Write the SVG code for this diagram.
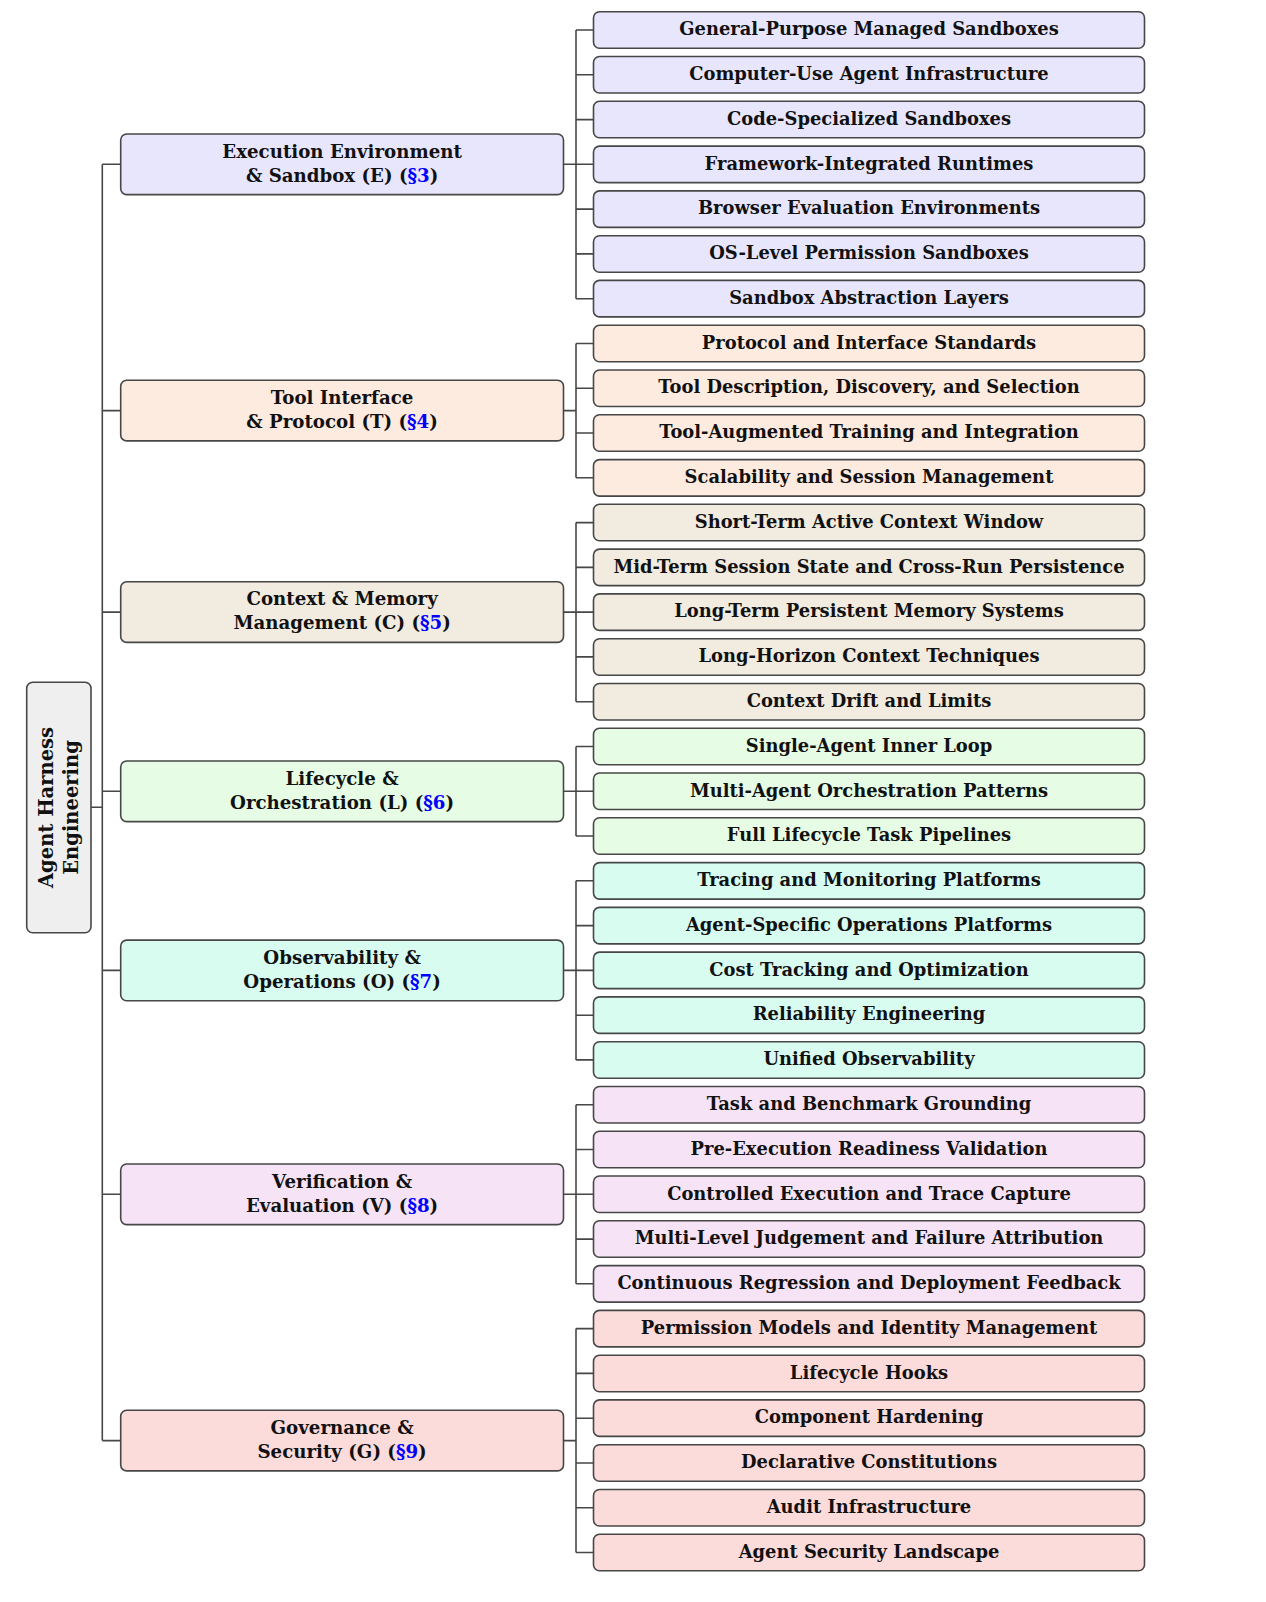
<svg xmlns="http://www.w3.org/2000/svg" width="1266" height="1602" viewBox="0 0 1266 1602">
<style>
.bx{stroke:#474747;stroke-width:1.6}
.c{fill:none;stroke:#474747;stroke-width:1.6}
text{font-family:"DejaVu Serif","Liberation Serif",serif;font-weight:bold;fill:#111;text-anchor:middle}
.s{font-size:17.9px}
.k{font-size:18.2px}
.r{font-size:19.5px}
.ref{fill:#0000ff}
.E{fill:#e8e6fd}.T{fill:#fdebe0}.C{fill:#f1ebe0}.L{fill:#e6fce4}.O{fill:#d9fcf1}.V{fill:#f6e4f6}.G{fill:#fcdbdb}.R{fill:#efefef}
</style>
<rect width="1266" height="1602" fill="#ffffff"/>
<g id="connectors">
<path class="c" d="M91,807.3H102.3M102.3,164.3V1440.6M102.3,164.3H120.7M102.3,410.6H120.7M102.3,612.1H120.7M102.3,791.3H120.7M102.3,970.4H120.7M102.3,1194.3H120.7M102.3,1440.6H120.7"/>
<path class="c" d="M563.5,164.3H576M576,30V298.7M576,30H593.5M576,74.8H593.5M576,119.6H593.5M576,164.3H593.5M576,209.1H593.5M576,253.9H593.5M576,298.7H593.5"/>
<path class="c" d="M563.5,410.6H576M576,343.5V477.8M576,343.5H593.5M576,388.2H593.5M576,433H593.5M576,477.8H593.5"/>
<path class="c" d="M563.5,612.1H576M576,522.6V701.7M576,522.6H593.5M576,567.4H593.5M576,612.1H593.5M576,656.9H593.5M576,701.7H593.5"/>
<path class="c" d="M563.5,791.3H576M576,746.5V836M576,746.5H593.5M576,791.3H593.5M576,836H593.5"/>
<path class="c" d="M563.5,970.4H576M576,880.8V1059.9M576,880.8H593.5M576,925.6H593.5M576,970.4H593.5M576,1015.2H593.5M576,1059.9H593.5"/>
<path class="c" d="M563.5,1194.3H576M576,1104.7V1283.8M576,1104.7H593.5M576,1149.5H593.5M576,1194.3H593.5M576,1239.1H593.5M576,1283.8H593.5"/>
<path class="c" d="M563.5,1440.6H576M576,1328.6V1552.5M576,1328.6H593.5M576,1373.4H593.5M576,1418.2H593.5M576,1463H593.5M576,1507.7H593.5M576,1552.5H593.5"/>
</g>
<g id="root">
<rect class="bx R" x="26.7" y="682.3" width="64.3" height="250.4" rx="6"/>
<text class="r" transform="translate(52.5,807.5) rotate(-90)">Agent Harness</text>
<text class="r" transform="translate(77.5,807.5) rotate(-90)">Engineering</text>
</g>
<g id="cat-E"><rect class="bx E" x="120.7" y="134" width="442.8" height="60.6" rx="6"/>
<text class="k" x="342.1" y="157.5">Execution Environment</text>
<text class="k" x="342.1" y="181.5">&amp; Sandbox (E) (<tspan class="ref">§3</tspan>)</text></g>
<g id="cat-T"><rect class="bx T" x="120.7" y="380.3" width="442.8" height="60.6" rx="6"/>
<text class="k" x="342.1" y="403.8">Tool Interface</text>
<text class="k" x="342.1" y="427.8">&amp; Protocol (T) (<tspan class="ref">§4</tspan>)</text></g>
<g id="cat-C"><rect class="bx C" x="120.7" y="581.8" width="442.8" height="60.6" rx="6"/>
<text class="k" x="342.1" y="605.3">Context &amp; Memory</text>
<text class="k" x="342.1" y="629.3">Management (C) (<tspan class="ref">§5</tspan>)</text></g>
<g id="cat-L"><rect class="bx L" x="120.7" y="761" width="442.8" height="60.6" rx="6"/>
<text class="k" x="342.1" y="784.5">Lifecycle &amp;</text>
<text class="k" x="342.1" y="808.5">Orchestration (L) (<tspan class="ref">§6</tspan>)</text></g>
<g id="cat-O"><rect class="bx O" x="120.7" y="940.1" width="442.8" height="60.6" rx="6"/>
<text class="k" x="342.1" y="963.6">Observability &amp;</text>
<text class="k" x="342.1" y="987.6">Operations (O) (<tspan class="ref">§7</tspan>)</text></g>
<g id="cat-V"><rect class="bx V" x="120.7" y="1164" width="442.8" height="60.6" rx="6"/>
<text class="k" x="342.1" y="1187.5">Verification &amp;</text>
<text class="k" x="342.1" y="1211.5">Evaluation (V) (<tspan class="ref">§8</tspan>)</text></g>
<g id="cat-G"><rect class="bx G" x="120.7" y="1410.3" width="442.8" height="60.6" rx="6"/>
<text class="k" x="342.1" y="1433.8">Governance &amp;</text>
<text class="k" x="342.1" y="1457.8">Security (G) (<tspan class="ref">§9</tspan>)</text></g>
<g id="sub-E1"><rect class="bx E" x="593.5" y="11.8" width="551" height="36.5" rx="6"/><text class="s" x="869" y="35.2">General-Purpose Managed Sandboxes</text></g>
<g id="sub-E2"><rect class="bx E" x="593.5" y="56.5" width="551" height="36.5" rx="6"/><text class="s" x="869" y="80">Computer-Use Agent Infrastructure</text></g>
<g id="sub-E3"><rect class="bx E" x="593.5" y="101.3" width="551" height="36.5" rx="6"/><text class="s" x="869" y="124.8">Code-Specialized Sandboxes</text></g>
<g id="sub-E4"><rect class="bx E" x="593.5" y="146.1" width="551" height="36.5" rx="6"/><text class="s" x="869" y="169.5">Framework-Integrated Runtimes</text></g>
<g id="sub-E5"><rect class="bx E" x="593.5" y="190.9" width="551" height="36.5" rx="6"/><text class="s" x="869" y="214.3">Browser Evaluation Environments</text></g>
<g id="sub-E6"><rect class="bx E" x="593.5" y="235.7" width="551" height="36.5" rx="6"/><text class="s" x="869" y="259.1">OS-Level Permission Sandboxes</text></g>
<g id="sub-E7"><rect class="bx E" x="593.5" y="280.4" width="551" height="36.5" rx="6"/><text class="s" x="869" y="303.9">Sandbox Abstraction Layers</text></g>
<g id="sub-T1"><rect class="bx T" x="593.5" y="325.2" width="551" height="36.5" rx="6"/><text class="s" x="869" y="348.7">Protocol and Interface Standards</text></g>
<g id="sub-T2"><rect class="bx T" x="593.5" y="370" width="551" height="36.5" rx="6"/><text class="s" x="869" y="393.4">Tool Description, Discovery, and Selection</text></g>
<g id="sub-T3"><rect class="bx T" x="593.5" y="414.8" width="551" height="36.5" rx="6"/><text class="s" x="869" y="438.2">Tool-Augmented Training and Integration</text></g>
<g id="sub-T4"><rect class="bx T" x="593.5" y="459.6" width="551" height="36.5" rx="6"/><text class="s" x="869" y="483">Scalability and Session Management</text></g>
<g id="sub-C1"><rect class="bx C" x="593.5" y="504.3" width="551" height="36.5" rx="6"/><text class="s" x="869" y="527.8">Short-Term Active Context Window</text></g>
<g id="sub-C2"><rect class="bx C" x="593.5" y="549.1" width="551" height="36.5" rx="6"/><text class="s" x="869" y="572.6">Mid-Term Session State and Cross-Run Persistence</text></g>
<g id="sub-C3"><rect class="bx C" x="593.5" y="593.9" width="551" height="36.5" rx="6"/><text class="s" x="869" y="617.3">Long-Term Persistent Memory Systems</text></g>
<g id="sub-C4"><rect class="bx C" x="593.5" y="638.7" width="551" height="36.5" rx="6"/><text class="s" x="869" y="662.1">Long-Horizon Context Techniques</text></g>
<g id="sub-C5"><rect class="bx C" x="593.5" y="683.5" width="551" height="36.5" rx="6"/><text class="s" x="869" y="706.9">Context Drift and Limits</text></g>
<g id="sub-L1"><rect class="bx L" x="593.5" y="728.2" width="551" height="36.5" rx="6"/><text class="s" x="869" y="751.7">Single-Agent Inner Loop</text></g>
<g id="sub-L2"><rect class="bx L" x="593.5" y="773" width="551" height="36.5" rx="6"/><text class="s" x="869" y="796.5">Multi-Agent Orchestration Patterns</text></g>
<g id="sub-L3"><rect class="bx L" x="593.5" y="817.8" width="551" height="36.5" rx="6"/><text class="s" x="869" y="841.2">Full Lifecycle Task Pipelines</text></g>
<g id="sub-O1"><rect class="bx O" x="593.5" y="862.6" width="551" height="36.5" rx="6"/><text class="s" x="869" y="886">Tracing and Monitoring Platforms</text></g>
<g id="sub-O2"><rect class="bx O" x="593.5" y="907.4" width="551" height="36.5" rx="6"/><text class="s" x="869" y="930.8">Agent-Specific Operations Platforms</text></g>
<g id="sub-O3"><rect class="bx O" x="593.5" y="952.1" width="551" height="36.5" rx="6"/><text class="s" x="869" y="975.6">Cost Tracking and Optimization</text></g>
<g id="sub-O4"><rect class="bx O" x="593.5" y="996.9" width="551" height="36.5" rx="6"/><text class="s" x="869" y="1020.4">Reliability Engineering</text></g>
<g id="sub-O5"><rect class="bx O" x="593.5" y="1041.7" width="551" height="36.5" rx="6"/><text class="s" x="869" y="1065.1">Unified Observability</text></g>
<g id="sub-V1"><rect class="bx V" x="593.5" y="1086.5" width="551" height="36.5" rx="6"/><text class="s" x="869" y="1109.9">Task and Benchmark Grounding</text></g>
<g id="sub-V2"><rect class="bx V" x="593.5" y="1131.3" width="551" height="36.5" rx="6"/><text class="s" x="869" y="1154.7">Pre-Execution Readiness Validation</text></g>
<g id="sub-V3"><rect class="bx V" x="593.5" y="1176" width="551" height="36.5" rx="6"/><text class="s" x="869" y="1199.5">Controlled Execution and Trace Capture</text></g>
<g id="sub-V4"><rect class="bx V" x="593.5" y="1220.8" width="551" height="36.5" rx="6"/><text class="s" x="869" y="1244.3">Multi-Level Judgement and Failure Attribution</text></g>
<g id="sub-V5"><rect class="bx V" x="593.5" y="1265.6" width="551" height="36.5" rx="6"/><text class="s" x="869" y="1289">Continuous Regression and Deployment Feedback</text></g>
<g id="sub-G1"><rect class="bx G" x="593.5" y="1310.4" width="551" height="36.5" rx="6"/><text class="s" x="869" y="1333.8">Permission Models and Identity Management</text></g>
<g id="sub-G2"><rect class="bx G" x="593.5" y="1355.2" width="551" height="36.5" rx="6"/><text class="s" x="869" y="1378.6">Lifecycle Hooks</text></g>
<g id="sub-G3"><rect class="bx G" x="593.5" y="1399.9" width="551" height="36.5" rx="6"/><text class="s" x="869" y="1423.4">Component Hardening</text></g>
<g id="sub-G4"><rect class="bx G" x="593.5" y="1444.7" width="551" height="36.5" rx="6"/><text class="s" x="869" y="1468.2">Declarative Constitutions</text></g>
<g id="sub-G5"><rect class="bx G" x="593.5" y="1489.5" width="551" height="36.5" rx="6"/><text class="s" x="869" y="1512.9">Audit Infrastructure</text></g>
<g id="sub-G6"><rect class="bx G" x="593.5" y="1534.3" width="551" height="36.5" rx="6"/><text class="s" x="869" y="1557.7">Agent Security Landscape</text></g>
</svg>
